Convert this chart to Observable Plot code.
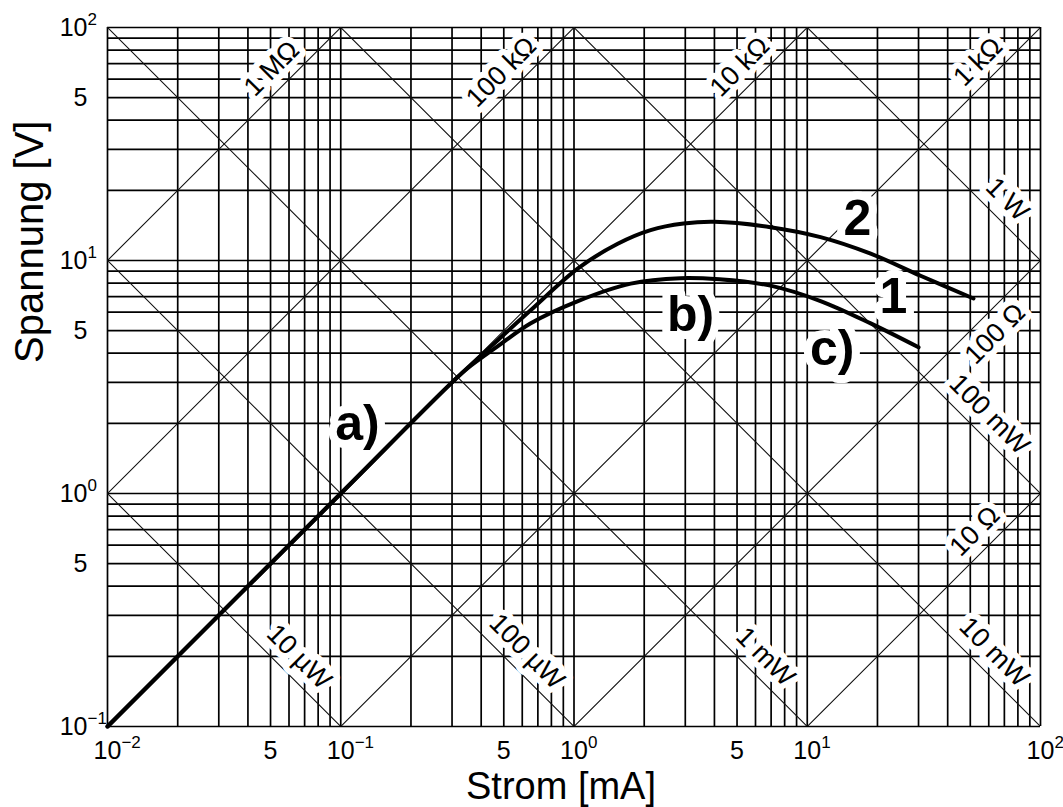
<!DOCTYPE html>
<html>
<head>
<meta charset="utf-8">
<script src="https://cdn.jsdelivr.net/npm/d3@7"></script>
<script src="https://cdn.jsdelivr.net/npm/@observablehq/plot@0.6"></script>
<style>
  html, body { margin: 0; padding: 0; background: #fff; }
  svg { display: block; }
</style>
</head>
<body>
<div id="chart"></div>
<script>
// ---------- data ----------
const xDecades = [0.01, 0.1, 1, 10];
const yDecades = [0.1, 1, 10];
const gridSteps = [1, 2, 3, 4, 5, 6, 7, 8, 9];
const xTicks = [0.01, 0.05, 0.1, 0.5, 1, 5, 10, 100];
const yTicks = [0.1, 0.5, 1, 5, 10, 50, 100];

// resistance lines: V[V] = R[kΩ] * I[mA]
const resistanceKOhm = [1000, 100, 10, 1, 0.1, 0.01];
const resistanceLabels = ["1 MΩ", "100 kΩ", "10 kΩ", "1 kΩ", "100 Ω", "10 Ω"];
// power lines: V[V] * I[mA] = P[mW]
const powerMW = [0.01, 0.1, 1, 10, 100, 1000];
const powerLabels = ["10 µW", "100 µW", "1 mW", "10 mW", "100 mW", "1 W"];

// characteristic curves (I in mA, V in V)
const curve1Current = [0.01, 0.1, 0.3, 0.35, 0.47, 0.65, 1.04, 1.75, 2.86, 4.2, 6.95, 11.4, 18.7, 30];
const curve1Voltage = [0.1, 1, 3.0, 3.45, 4.28, 5.37, 6.7, 7.96, 8.4, 8.3, 7.8, 6.7, 5.37, 4.24];
const curve2Current = [0.01, 0.1, 0.3, 0.48, 0.65, 1.04, 1.54, 2.13, 2.95, 4.0, 6.95, 11.4, 18.7, 30.6, 51.6];
const curve2Voltage = [0.1, 1, 3.0, 4.63, 6.1, 9.25, 11.8, 13.5, 14.4, 14.65, 13.9, 12.6, 10.7, 8.6, 6.87];

const curveLabels = ["a)", "b)", "c)", "1", "2"];
const curveLabelCurrent = [0.118, 3.16, 12.8, 23.4, 16.4];
const curveLabelVoltage = [1.98, 5.81, 4.19, 7.0, 15.1];

const xTitle = "Strom [mA]";
const yTitle = "Spannung [V]";

// ---------- layout of line labels (current where the label sits on its line, side) ----------
const resLabelAt = [0.058, 0.56, 5.9, 62, 55.6, 60];
const resLabelSide = [-1, -1, -1, -1, 1, -1];   // -1: above-left of line, 1: below-right
const powLabelAt = [0.0577, 0.547, 5.77, 55.1, 52.6, 62.8];

// ---------- derived tables ----------
const xGrid = xDecades.flatMap(d => gridSteps.map(s => s * d)).concat([100]);
const yGrid = yDecades.flatMap(d => gridSteps.map(s => s * d)).concat([100]);

const resLines = resistanceKOhm.flatMap((r, k) => [
  {key: k, I: 1e-3, V: r * 1e-3}, {key: k, I: 1e3, V: r * 1e3}
]);
const powLines = powerMW.flatMap((p, k) => [
  {key: k, I: 1e-3, V: p / 1e-3}, {key: k, I: 1e3, V: p / 1e3}
]);
const resLabelData = resistanceKOhm.map((r, k) => ({
  text: resistanceLabels[k], I: resLabelAt[k], V: r * resLabelAt[k], side: resLabelSide[k]
}));
const powLabelData = powerMW.map((p, k) => ({
  text: powerLabels[k], I: powLabelAt[k], V: p / powLabelAt[k]
}));
const curve1 = curve1Current.map((I, i) => ({I, V: curve1Voltage[i]}));
const curve2 = curve2Current.map((I, i) => ({I, V: curve2Voltage[i]}));
const curveLabelData = curveLabels.map((t, i) => ({text: t, I: curveLabelCurrent[i], V: curveLabelVoltage[i]}));

function tickFmt(d) {
  const l = Math.log10(d);
  const e = Math.round(l);
  if (Math.abs(l - e) < 1e-9) return "10^" + (e < 0 ? "\u2212" + (-e) : String(e));
  return String(Math.round(d / Math.pow(10, Math.floor(l))));
}

const OFF = 14;
const lineLabelStyle = {fontSize: 27, fill: "black", stroke: "white", strokeWidth: 12, textAnchor: "middle", lineAnchor: "middle"};

const chart = Plot.plot({
  width: 1063,
  height: 807,
  marginTop: 27,
  marginRight: 23,
  marginBottom: 81,
  marginLeft: 107,
  x: {type: "log", domain: [0.01, 100]},
  y: {type: "log", domain: [0.1, 100]},
  style: {fontFamily: "'Liberation Sans', Arial, Helvetica, sans-serif", background: "white", color: "black"},
  marks: [
    Plot.ruleX(xGrid, {stroke: "#000", strokeWidth: 1.7}),
    Plot.ruleY(yGrid, {stroke: "#000", strokeWidth: 1.7}),
    Plot.line(resLines, {x: "I", y: "V", z: "key", clip: true, stroke: "#111", strokeWidth: 1.1}),
    Plot.line(powLines, {x: "I", y: "V", z: "key", clip: true, stroke: "#111", strokeWidth: 1.1}),
    Plot.text(resLabelData, {filter: d => d.side < 0, x: "I", y: "V", text: "text", rotate: -45, dx: -OFF, dy: -OFF, ...lineLabelStyle}),
    Plot.text(resLabelData, {filter: d => d.side > 0, x: "I", y: "V", text: "text", rotate: -45, dx: OFF, dy: OFF, ...lineLabelStyle}),
    Plot.text(powLabelData, {x: "I", y: "V", text: "text", rotate: 45, dx: OFF, dy: -OFF, ...lineLabelStyle}),
    Plot.text(curveLabelData, {x: "I", y: "V", text: "text", fontSize: 50, fontWeight: "bold", fill: "black", stroke: "white", strokeWidth: 16, lineAnchor: "middle"}),
    Plot.line(curve1, {x: "I", y: "V", curve: "catmull-rom", stroke: "black", strokeWidth: 4, strokeLinecap: "round"}),
    Plot.line(curve2, {x: "I", y: "V", curve: "catmull-rom", stroke: "black", strokeWidth: 4, strokeLinecap: "round"}),
    Plot.axisX({ticks: xTicks, tickSize: 0, tickPadding: 15, fontSize: 25, text: d => tickFmt(d), label: null}),
    Plot.axisY({ticks: yTicks, tickSize: 0, tickPadding: 20, fontSize: 25, text: d => tickFmt(d), label: null}),
    Plot.text([xTitle], {frameAnchor: "bottom", text: d => d, dy: 60, dx: -13, fontSize: 38, lineAnchor: "middle"}),
    Plot.text([yTitle], {frameAnchor: "left", text: d => d, rotate: -90, dx: -77, dy: -14, fontSize: 40, lineAnchor: "middle"})
  ]
});

document.getElementById("chart").append(chart);

// superscripts for tick labels of the form 10^n (keeps Plot's own positioning)
const NS = "http://www.w3.org/2000/svg";
function superscriptify(label, factor) {
  chart.querySelectorAll(`g[aria-label="${label}"] text`).forEach(t => {
    const walker = document.createTreeWalker(t, NodeFilter.SHOW_TEXT);
    let node;
    while ((node = walker.nextNode())) {
      const s = node.nodeValue;
      const i = s.indexOf("^");
      if (i < 0) continue;
      node.nodeValue = s.slice(0, i);
      const e = document.createElementNS(NS, "tspan");
      e.textContent = s.slice(i + 1);
      e.setAttribute("font-size", "17");
      e.setAttribute("dy", "-11");
      node.parentNode.insertBefore(e, node.nextSibling);
      const w = e.getComputedTextLength();
      t.setAttribute("transform", (t.getAttribute("transform") || "") + ` translate(${w * factor},0)`);
      break;
    }
  });
}
superscriptify("x-axis tick label", 0.5);
superscriptify("y-axis tick label", 1);
</script>
</body>
</html>
